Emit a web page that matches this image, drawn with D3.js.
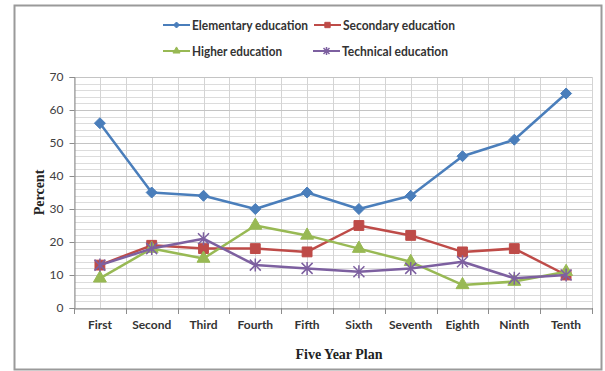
<!DOCTYPE html>
<html><head><meta charset="utf-8">
<script src="https://cdn.jsdelivr.net/npm/d3@7"></script>
<style>body{margin:0;background:#fff}svg{display:block}</style>
</head><body>
<svg id="c" width="605" height="371"></svg>
<script>
const categories = ["First","Second","Third","Fourth","Fifth","Sixth","Seventh","Eighth","Ninth","Tenth"];
const elementary = [56,35,34,30,35,30,34,46,51,65];
const secondary  = [13,19,18,18,17,25,22,17,18,10];
const higher     = [9,18,15,25,22,18,14,7,8,11];
const technical  = [13,18,21,13,12,11,12,14,9,10];
const seriesNames = ["Elementary education","Secondary education","Higher education","Technical education"];
const yTicks = [0,10,20,30,40,50,60,70];

const series = [
  {name: seriesNames[0], values: elementary, color: "#4A7EBB", marker: "diamond"},
  {name: seriesNames[1], values: secondary,  color: "#BE4B48", marker: "square"},
  {name: seriesNames[2], values: higher,     color: "#98B954", marker: "triangle"},
  {name: seriesNames[3], values: technical,  color: "#7D60A0", marker: "star"}
];

const svg = d3.select("#c");
const L = 74, R = 592, T = 77, B = 308;

svg.append("rect").attr("x",14.5).attr("y",5.5).attr("width",587).attr("height",364)
  .attr("fill","#fff").attr("stroke","#9a9a9a").attr("stroke-width",2);

const x = d3.scaleBand().domain(categories).range([L,R]).padding(0);
const y = d3.scaleLinear().domain([0,70]).range([B,T]);

const g = svg.append("g");
g.selectAll("line.hmin").data(d3.range(0,71,2)).join("line")
  .attr("x1",L).attr("x2",R).attr("y1",d=>Math.round(y(d))+0.5).attr("y2",d=>Math.round(y(d))+0.5)
  .attr("stroke","#dcdcdc").attr("stroke-width",1);
const vpos = [];
categories.forEach(c=>{vpos.push(x(c)); vpos.push(x(c)+x.bandwidth()/2);});
vpos.push(R);
g.selectAll("line.v").data(vpos).join("line")
  .attr("x1",d=>Math.round(d)+0.5).attr("x2",d=>Math.round(d)+0.5).attr("y1",T).attr("y2",B)
  .attr("stroke","#d4d4d4").attr("stroke-width",1);
g.selectAll("line.hmaj").data(yTicks).join("line")
  .attr("x1",L).attr("x2",R).attr("y1",d=>Math.round(y(d))+0.5).attr("y2",d=>Math.round(y(d))+0.5)
  .attr("stroke","#c4c4c4").attr("stroke-width",1);

const yAxis = d3.axisLeft(y).tickValues(yTicks).tickSize(5).tickPadding(6);
const ya = svg.append("g").attr("transform",`translate(${L+0.5},0)`).call(yAxis);
ya.select(".domain").attr("stroke","#8c8c8c");
ya.selectAll(".tick line").attr("stroke","#8c8c8c");
ya.selectAll("text").attr("font-family","Lato, 'Open Sans', sans-serif").attr("font-size",12).attr("fill","#404040");

const xAxis = d3.axisBottom(x).tickSize(0).tickPadding(12);
const xa = svg.append("g").attr("transform",`translate(0,${B+0.5})`).call(xAxis);
xa.select(".domain").attr("stroke","#8c8c8c");
xa.selectAll("text").attr("font-family","Lato, 'Open Sans', sans-serif").attr("font-size",12)
  .attr("font-weight","bold").attr("fill","#333");
svg.append("g").selectAll("line").data(categories.map(c=>x(c)).concat([R])).join("line")
  .attr("x1",d=>Math.round(d)+0.5).attr("x2",d=>Math.round(d)+0.5).attr("y1",B).attr("y2",B+6)
  .attr("stroke","#8c8c8c");

svg.append("text").attr("transform",`translate(44,${(T+B)/2}) rotate(-90)`).attr("text-anchor","middle")
  .attr("font-family","'Liberation Serif', serif").attr("font-weight","bold").attr("font-size",14).attr("fill","#222").text("Percent");
svg.append("text").attr("x",339).attr("y",359).attr("text-anchor","middle")
  .attr("font-family","'Liberation Serif', serif").attr("font-weight","bold").attr("font-size",14).attr("fill","#222").text("Five Year Plan");

function drawMarker(sel, type, color, s){
  const h = s/2;
  if(type==="diamond"){
    sel.append("path").attr("d",`M0,${-h}L${h},0L0,${h}L${-h},0Z`).attr("fill",color).attr("stroke",color);
  } else if(type==="square"){
    sel.append("path").attr("d",d3.symbol(d3.symbolSquare, s*s*0.8)()).attr("fill",color).attr("stroke",color);
  } else if(type==="triangle"){
    sel.append("path").attr("d",d3.symbol(d3.symbolTriangle, s*s*0.6)()).attr("fill",color).attr("stroke",color);
  } else {
    sel.append("path").attr("d",`M${-h},${-h}L${h},${h}M${-h},${h}L${h},${-h}M0,${-h-1}L0,${h+1}`)
      .attr("stroke",color).attr("stroke-width",1.5).attr("fill","none");
  }
}

const line = d3.line().x((d,i)=>x(categories[i])+x.bandwidth()/2).y(d=>y(d));
series.forEach(s=>{
  svg.append("path").datum(s.values).attr("d",line).attr("fill","none")
    .attr("stroke",s.color).attr("stroke-width",2.5).attr("stroke-linejoin","round");
  s.values.forEach((v,i)=>{
    const m = svg.append("g").attr("transform",`translate(${x(categories[i])+x.bandwidth()/2},${y(v)})`);
    drawMarker(m, s.marker, s.color, 11);
  });
});

const legPos = [[163,25],[314,25],[163,51],[313,51]];
const legTextW = [116,112,90,106];
series.forEach((s,i)=>{
  const [lx,ly] = legPos[i];
  const lg = svg.append("g");
  lg.append("line").attr("x1",lx).attr("x2",lx+27).attr("y1",ly).attr("y2",ly).attr("stroke",s.color).attr("stroke-width",2);
  const m = lg.append("g").attr("transform",`translate(${lx+13.5},${ly})`);
  drawMarker(m, s.marker, s.color, 6);
  lg.append("text").attr("x",lx+29).attr("y",ly+4.5).attr("font-family","Lato, 'Open Sans', sans-serif")
    .attr("font-size",12.5).attr("font-weight","bold").attr("fill","#333")
    .attr("textLength",legTextW[i]).attr("lengthAdjust","spacingAndGlyphs").text(s.name);
});
</script>
</body></html>
